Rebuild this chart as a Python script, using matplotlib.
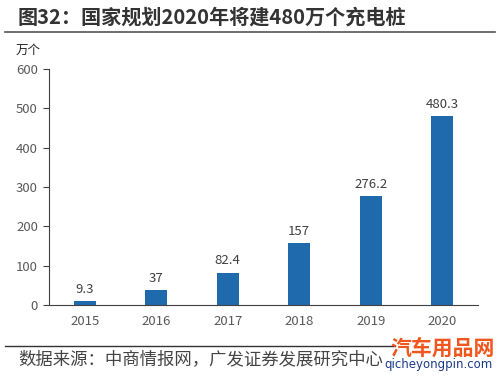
import matplotlib
matplotlib.use("Agg")
import matplotlib.pyplot as plt
from matplotlib.lines import Line2D

plt.rcParams['font.family'] = ['Noto Sans CJK SC', 'DejaVu Sans']

years = ['2015', '2016', '2017', '2018', '2019', '2020']
values = [9.3, 37, 82.4, 157, 276.2, 480.3]
labels = ['9.3', '37', '82.4', '157', '276.2', '480.3']
yticks = [0, 100, 200, 300, 400, 500, 600]

fig = plt.figure(figsize=(5, 3.76), dpi=100)
ax = fig.add_axes([0.098, 0.189, 0.858, 0.6275])
x = range(len(years))
ax.bar(x, values, width=0.31, color='#1f6aad')
for xi, v, l in zip(x, values, labels):
    ax.text(xi, v + 14, l, ha='center', va='bottom', fontsize=9.5, color='#404040')
ax.set_xlim(-0.5, len(years) - 0.5)
ax.set_ylim(0, 600)
ax.set_yticks(yticks)
ax.set_xticks(list(x))
ax.set_xticklabels(years)
ax.tick_params(axis='x', length=0, labelsize=9.5, labelcolor='#595959', pad=7)
ax.tick_params(axis='y', length=4, direction='out', labelsize=9.5, labelcolor='#595959', color='#404040', pad=4)
for s in ['top', 'right']:
    ax.spines[s].set_visible(False)
ax.spines['left'].set_color('#404040')
ax.spines['bottom'].set_color('#404040')

fig.text(0.036, 0.955, '图32：国家规划2020年将建480万个充电桩', fontsize=14.5, fontweight='bold',
         color='#333333', va='center', ha='left')
fig.add_artist(Line2D([0.01, 0.99], [0.915, 0.915], color='#555555', lw=1.2))
fig.text(0.032, 0.865, '万个', fontsize=9, color='#222222', va='center', ha='left')
fig.add_artist(Line2D([0.01, 0.79], [0.080, 0.080], color='#333333', lw=1.0))
fig.text(0.036, 0.045, '数据来源：中商情报网，广发证券发展研究中心', fontsize=12.5, color='#444444',
         va='center', ha='left')
fig.text(0.99, 0.074, '汽车用品网', fontsize=15, fontweight='bold', color='#f0561e', va='center', ha='right')
fig.text(0.985, 0.030, 'qicheyongpin.com', fontsize=8.5, color='#1a3a8a', va='center', ha='right',
         family=['DejaVu Sans'])

fig.savefig('out.png', dpi=100)
